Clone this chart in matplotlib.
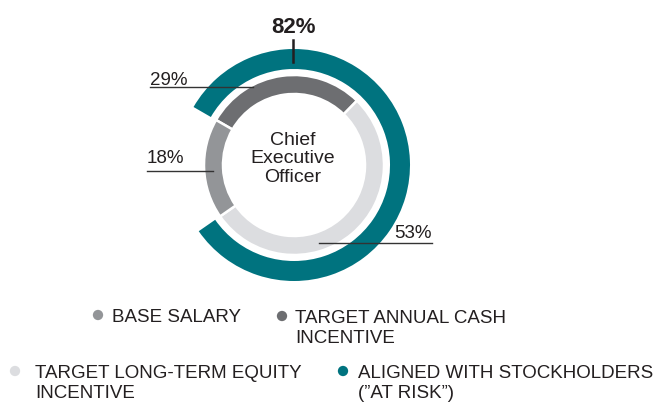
import matplotlib.pyplot as plt

plt.rcParams["font.family"] = ["Liberation Sans", "DejaVu Sans"]

# pay mix for the CEO, in percent
components = ["TARGET ANNUAL CASH\nINCENTIVE", "TARGET LONG-TERM EQUITY\nINCENTIVE", "BASE SALARY"]
mix = [29, 53, 18]
mix_colors = ["#6d6e71", "#dcdde0", "#939598"]

at_risk_label = "ALIGNED WITH STOCKHOLDERS\n(\u201dAT RISK\u201d)"
at_risk = [82, 18]
teal = "#00737f"

center_label = "Chief\nExecutive\nOfficer"
text_color = "#231f20"

W, H = 657, 406
cx, cy = 294, H - 166

fig = plt.figure(figsize=(W / 100, H / 100), dpi=100)
ax = fig.add_axes([0, 0, 1, 1])

# outer ring: share that is at risk
ax.pie(at_risk, colors=[teal, "none"], radius=116, center=(cx, cy),
       startangle=150, counterclock=False, frame=True,
       wedgeprops=dict(width=20, edgecolor="none"))

# inner ring: the three components
ax.pie(mix, colors=mix_colors, radius=90, center=(cx, cy),
       startangle=150, counterclock=False, frame=True,
       wedgeprops=dict(width=19, edgecolor="white", linewidth=1.8))

ax.text(cx - 1, H - 159, center_label, ha="center", va="center",
        fontsize=14, color=text_color, linespacing=1.15)

# value callouts
ax.text(cx - 1, H - 33, f"{at_risk[0]}%", ha="center", va="baseline",
        fontsize=16, fontweight="bold", color=text_color)
ax.plot([cx - 1, cx - 1], [H - 41, H - 63], color=text_color, lw=1.8)

ax.text(150, H - 85, f"{mix[0]}%", ha="left", va="baseline", fontsize=13.5, color=text_color)
ax.plot([150, 253], [H - 88, H - 88], color="#333333", lw=1)

ax.text(147, H - 163, f"{mix[2]}%", ha="left", va="baseline", fontsize=13.5, color=text_color)
ax.plot([147, 213], [H - 172, H - 172], color="#333333", lw=1)

ax.text(432, H - 238, f"{mix[1]}%", ha="right", va="baseline", fontsize=13.5, color=text_color)
ax.plot([319, 432], [H - 243.5, H - 243.5], color="#333333", lw=1)

# legend, laid out by hand like the original
legend_items = [
    (components[2], mix_colors[2], 98, 316, 112),
    (components[0], mix_colors[0], 282, 317, 295),
    (components[1], mix_colors[1], 15, 372, 35),
    (at_risk_label, teal, 343, 372, 358),
]
for label, color, mx, my, tx in legend_items:
    ax.scatter([mx], [H - my], s=55, color=color, edgecolor="none")
    ax.text(tx, H - my + 6.5, label, ha="left", va="top", fontsize=13.5,
            color=text_color, linespacing=1.2)

ax.set_xlim(0, W)
ax.set_ylim(0, H)
ax.set_aspect("equal")
ax.axis("off")

fig.savefig("out.png", dpi=100)
